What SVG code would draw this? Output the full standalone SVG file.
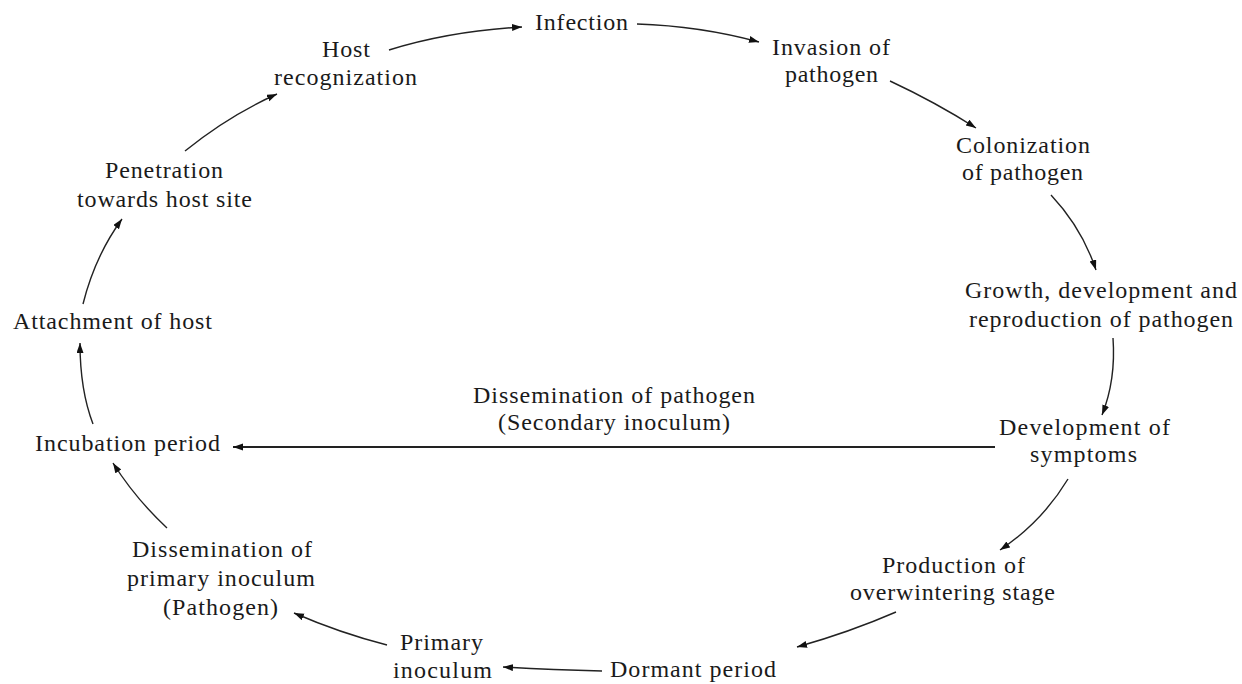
<svg xmlns="http://www.w3.org/2000/svg" width="1242" height="684" viewBox="0 0 1242 684">
<style>
text{font-family:"Liberation Serif","Times New Roman",serif;font-size:24px;fill:#1a1a1a;}
.c{fill:none;stroke:#222;stroke-width:1.4;marker-end:url(#ah);}
</style>
<defs>
<marker id="ah" markerUnits="userSpaceOnUse" markerWidth="11" markerHeight="8" refX="10" refY="3.5" orient="auto">
<path d="M0,0 L10,3.5 L0,7 z" fill="#111"/>
</marker>
</defs>
<rect width="1242" height="684" fill="#fff"/>
<g id="connectors">
<path class="c" d="M389,50 Q450,31 522,27"/>
<path class="c" d="M637,24 Q700,26 759,42"/>
<path class="c" d="M890,81 Q935,102 976,128"/>
<path class="c" d="M1051,195 Q1082,228 1096,270"/>
<path class="c" d="M1113,338 Q1116,380 1102,415"/>
<path class="c" d="M1068,479 Q1042,522 1000,550"/>
<path class="c" d="M896,612 Q850,632 797,647"/>
<path class="c" d="M602,671 Q550,670 503,667"/>
<path class="c" d="M387,645 Q340,633 294,613"/>
<path class="c" d="M167,528 Q135,498 113,463"/>
<path class="c" d="M93,424 Q80,390 80,343"/>
<path class="c" d="M83,304 Q95,256 122,219"/>
<path class="c" d="M185,151 Q228,116 277,94"/>
<path class="c" d="M995,447 L233,447" style="stroke-width:1.8"/>
</g>
<g id="n-infection"><text x="535" y="30" textLength="93">Infection</text></g>
<g id="n-invasion"><text x="772" y="55" textLength="118">Invasion of</text><text x="785" y="82" textLength="93">pathogen</text></g>
<g id="n-colonization"><text x="956" y="153" textLength="134">Colonization</text><text x="962" y="180" textLength="121">of pathogen</text></g>
<g id="n-growth"><text x="965" y="298" textLength="272">Growth, development and</text><text x="969" y="327" textLength="264">reproduction of pathogen</text></g>
<g id="n-symptoms"><text x="999" y="435" textLength="171">Development of</text><text x="1030" y="462" textLength="107">symptoms</text></g>
<g id="n-production"><text x="882" y="573" textLength="143">Production of</text><text x="850" y="600" textLength="205">overwintering stage</text></g>
<g id="n-dormant"><text x="610" y="677" textLength="166">Dormant period</text></g>
<g id="n-primary"><text x="400" y="650" textLength="83">Primary</text><text x="393" y="678" textLength="99">inoculum</text></g>
<g id="n-dissem-primary"><text x="132" y="557" textLength="180">Dissemination of</text><text x="127" y="586" textLength="188">primary inoculum</text><text x="163" y="615" textLength="115">(Pathogen)</text></g>
<g id="n-incubation"><text x="35" y="451" textLength="185">Incubation period</text></g>
<g id="n-attachment"><text x="13" y="329" textLength="199">Attachment of host</text></g>
<g id="n-penetration"><text x="105" y="178" textLength="118">Penetration</text><text x="77" y="207" textLength="175">towards host site</text></g>
<g id="n-host"><text x="322" y="57" textLength="48">Host</text><text x="274" y="85" textLength="143">recognization</text></g>
<g id="n-dissem-secondary"><text x="473" y="403" textLength="282">Dissemination of pathogen</text><text x="498" y="430" textLength="232">(Secondary inoculum)</text></g>
</svg>
